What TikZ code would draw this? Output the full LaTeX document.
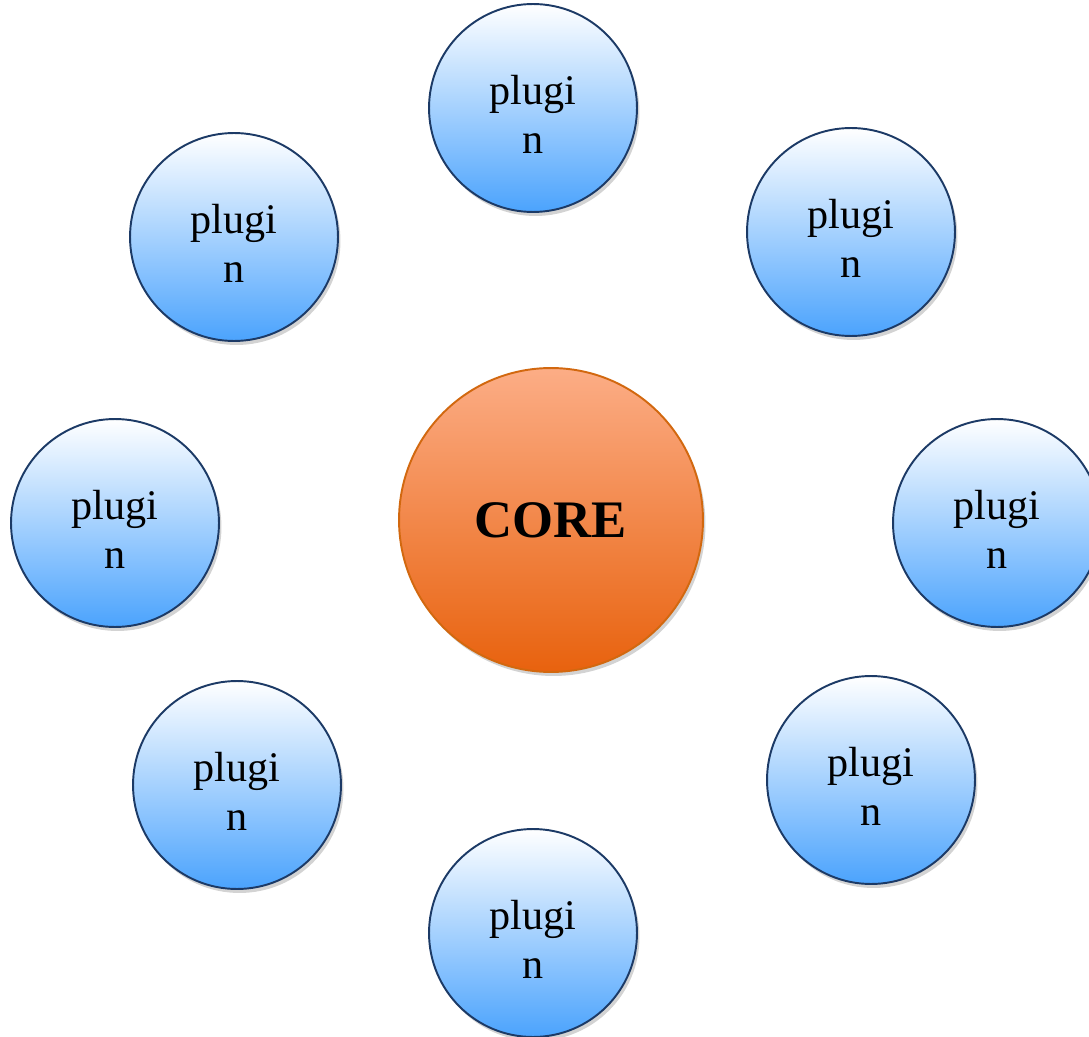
\documentclass[tikz,border=0pt]{standalone}
\usepackage{fontspec}
\setmainfont{Liberation Serif}
\usepackage{tikz}
\usetikzlibrary{shadows}
\definecolor{plugtop}{HTML}{FFFFFF}
\definecolor{plugmid}{HTML}{DDEAFD}
\definecolor{plugbot}{HTML}{4BA3FD}
\definecolor{plugline}{HTML}{1C3A66}
\definecolor{coretop}{HTML}{FCAD86}
\definecolor{coremid}{HTML}{F49A6B}
\definecolor{corebot}{HTML}{E8620E}
\definecolor{coreline}{HTML}{D2680F}
\newcommand{\plugtext}{\rule{0pt}{0.85cm}plugi\\n}
\tikzset{
	plugin/.style={circle, draw=plugline, line width=1.1pt, minimum size=4.16cm, inner sep=0pt,
		top color=plugtop, middle color=plugmid, bottom color=plugbot, align=center,
		font=\fontsize{24}{28}\selectfont,
		drop shadow={shadow xshift=0.05cm, shadow yshift=-0.08cm, opacity=0.35}},
	core/.style={circle, draw=coreline, line width=1.1pt, minimum size=6.08cm, inner sep=0pt,
		top color=coretop, middle color=coremid, bottom color=corebot,
		font=\fontsize{30}{32}\selectfont\bfseries,
		drop shadow={shadow xshift=0.05cm, shadow yshift=-0.08cm, opacity=0.35}}
}

\begin{document}
\begin{tikzpicture}[x=0.02cm, y=-0.02cm]
			%%%%% START %%%%%
			\useasboundingbox (0, 0) rectangle (1089, 1037);
			
			\node[core] (core) at (551, 520) {CORE};
			
			\node[plugin] (plugtop) at (533, 108) {\plugtext};
			\node[plugin] (plugul) at (234, 237) {\plugtext};
			\node[plugin] (plugur) at (851, 232) {\plugtext};
			\node[plugin] (plugleft) at (115, 523) {\plugtext};
			\node[plugin] (plugright) at (997, 523) {\plugtext};
			\node[plugin] (plugll) at (237, 785) {\plugtext};
			\node[plugin] (pluglr) at (871, 780) {\plugtext};
			\node[plugin] (plugbot) at (533, 933) {\plugtext};
			
			%%%%% END %%%%%
\end{tikzpicture}
\end{document}
